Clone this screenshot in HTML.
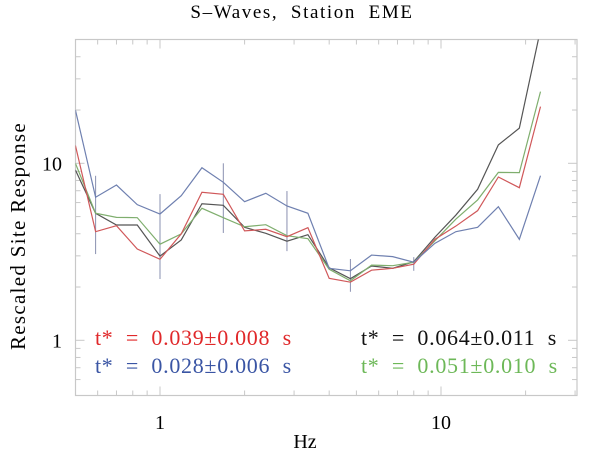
<!DOCTYPE html>
<html><head><meta charset="utf-8"><style>
body{margin:0;background:#fff}
svg text{font-family:"Liberation Serif",serif}
</style></head><body>
<svg id="chart" width="600" height="460" xmlns="http://www.w3.org/2000/svg">
<text x="302" y="18" text-anchor="middle" font-size="19" letter-spacing="1.6" xml:space="preserve">S–Waves,  Station  EME</text>
<text transform="translate(25,236) rotate(-90)" text-anchor="middle" font-size="21" letter-spacing="1.3">Rescaled Site Response</text>
<text x="305" y="448" text-anchor="middle" font-size="20">Hz</text>
<g id="axes"></g>
<g id="marks"></g>
<text x="95" y="345" font-size="22" letter-spacing="0.7" fill="#e0282a" xml:space="preserve">t*  =  0.039±0.008  s</text>
<text x="95" y="373" font-size="22" letter-spacing="0.7" fill="#3a55a4" xml:space="preserve">t*  =  0.028±0.006  s</text>
<text x="361" y="345" font-size="22" letter-spacing="0.7" fill="#111" xml:space="preserve">t*  =  0.064±0.011  s</text>
<text x="361" y="373" font-size="22" letter-spacing="0.7" fill="#6db858" xml:space="preserve">t*  =  0.051±0.010  s</text>
</svg>
<script>
const freqs = [0.50,0.59,0.70,0.83,1.00,1.19,1.41,1.68,2.00,2.38,2.83,3.36,4.00,4.76,5.66,6.73,8.00,9.51,11.3,13.5,16.0,19.0,22.6];
const blueVals = [20.0,6.43,7.54,5.84,5.17,6.56,9.44,7.81,6.07,6.77,5.74,5.22,2.55,2.47,3.03,2.97,2.76,3.53,4.11,4.35,5.69,3.72,8.51];
const redVals = [12.6,4.11,4.44,3.28,2.87,3.99,6.86,6.68,4.15,4.24,3.85,4.33,2.24,2.13,2.49,2.55,2.69,3.72,4.42,5.40,8.37,7.28,20.9];
const blackVals = [9.17,5.22,4.48,4.48,2.99,3.69,5.91,5.79,4.35,4.02,3.63,3.95,2.57,2.23,2.63,2.55,2.78,3.82,5.10,7.13,12.7,15.8,57];
const greenVals = [10.0,5.22,4.95,4.93,3.49,3.99,5.57,4.93,4.38,4.50,3.90,3.75,2.52,2.17,2.66,2.64,2.76,3.65,4.84,6.21,8.89,8.86,25.4];
const errFreqs = [0.59,1.00,1.68,2.83,4.76,8.00];
const errHigh = [8.5,6.7,10.0,6.97,2.88,2.95];
const errLow = [3.07,2.22,4.04,3.19,1.88,2.47];
const xTickMajor = [1,10];
const xTickMinor = [0.6,0.7,0.8,0.9,2,3,4,5,6,7,8,9,20,30];
const yTickMajor = [1,10];
const yTickMinor = [0.6,0.7,0.8,0.9,2,3,4,5,6,7,8,9,20,30,40];
const series = [["black",blackVals,"#555"],["green",greenVals,"#7fae6e"],["red",redVals,"#d0585a"],["blue",blueVals,"#6f80b0"]];
const L=75.5,R=577,T=39.5,B=395.5;
const x = f => 160 + Math.log10(f)*281;
const y = v => 340.3 - Math.log10(v)*177;
const NS="http://www.w3.org/2000/svg";
const axes=document.getElementById('axes'), marks=document.getElementById('marks');
function mk(tag,attrs,parent){const e=document.createElementNS(NS,tag);for(const k in attrs)e.setAttribute(k,attrs[k]);parent.appendChild(e);return e;}
const frame=mk('rect',{x:L,y:T,width:R-L,height:B-T,fill:'none',stroke:'#c8c8c8','stroke-width':1.2},axes);


xTickMajor.concat(xTickMinor).forEach(f=>{
  const len = xTickMajor.includes(f)?9:5;
  const t1=mk('line',{x1:x(f),x2:x(f),y1:B,y2:B-len,stroke:'#c8c8c8'},axes);
  
  
  const t2=mk('line',{x1:x(f),x2:x(f),y1:T,y2:T+len,stroke:'#c8c8c8'},axes);
  
  
});
yTickMajor.concat(yTickMinor).forEach(v=>{
  const len = yTickMajor.includes(v)?9:5;
  const t1=mk('line',{x1:L,x2:L+len,y1:y(v),y2:y(v),stroke:'#c8c8c8'},axes);
  
  
  const t2=mk('line',{x1:R,x2:R-len,y1:y(v),y2:y(v),stroke:'#c8c8c8'},axes);
  
  
});
xTickMajor.forEach(f=>{
  const t=mk('text',{x:x(f),y:429,'text-anchor':'middle','font-size':20},axes);
  t.textContent=f;
  
  
});
yTickMajor.forEach(v=>{
  const t=mk('text',{x:62,y:y(v)+7,'text-anchor':'end','font-size':20},axes);
  t.textContent=v;
  
  
});
const clip=mk('clipPath',{id:'pc'},marks);
mk('rect',{x:L,y:T,width:R-L,height:B-T},clip);
errFreqs.forEach((f,i)=>{
  const e=mk('line',{x1:x(f),x2:x(f),y1:y(errHigh[i]),y2:y(errLow[i]),stroke:'#8a90b0','stroke-width':1},marks);
  
  
});
series.forEach(([name,vals,col])=>{
  const p=mk('polyline',{points:vals.map((v,i)=>x(freqs[i])+','+y(v)).join(' '),fill:'none',stroke:col,'stroke-width':1.2,'clip-path':'url(#pc)'},marks);
  
  
});
</script>
</body></html>
